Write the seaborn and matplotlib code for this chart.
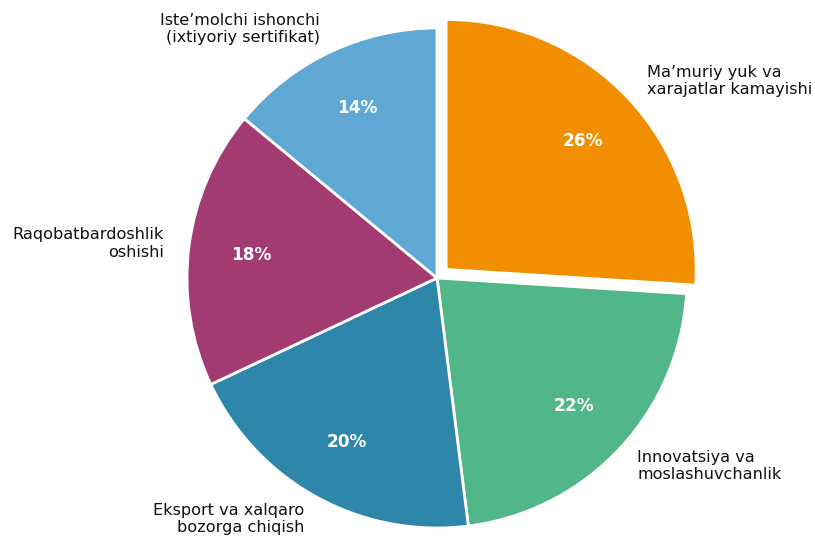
import matplotlib
matplotlib.use("Agg")
import matplotlib.pyplot as plt
import seaborn as sns

sns.set_theme(style="white")
plt.rcParams['font.family'] = ['DejaVu Sans']

categories = [
    "Ma\u2019muriy yuk va\nxarajatlar kamayishi",
    "Innovatsiya va\nmoslashuvchanlik",
    "Eksport va xalqaro\nbozorga chiqish",
    "Raqobatbardoshlik\noshishi",
    "Iste\u2019molchi ishonchi\n(ixtiyoriy sertifikat)",
]
values = [26, 22, 20, 18, 14]
colors = ["#F18F01", "#52B788", "#2E86AB", "#A23B72", "#5FA8D3"]
explode = [0.05, 0, 0, 0, 0]

fig = plt.figure(figsize=(8.15, 5.38), dpi=100)
ax = fig.add_axes([0, 0, 1, 1])
wedges, texts, autotexts = ax.pie(
    values, labels=categories, colors=colors, explode=explode,
    startangle=90, counterclock=False, autopct="%1.0f%%",
    pctdistance=0.75, labeldistance=1.1,
    wedgeprops=dict(edgecolor="white", linewidth=2),
    textprops=dict(fontsize=11.6, color="#111111"),
)
for t in autotexts:
    t.set_color("white")
    t.set_fontweight("bold")
    t.set_fontsize(12.2)
ax.set_aspect("equal")
ax.set_xlim(-437 / 250, (815 - 437) / 250)
ax.set_ylim(-260 / 250, 278 / 250)
ax.axis("off")
fig.savefig("out.png", dpi=100)
